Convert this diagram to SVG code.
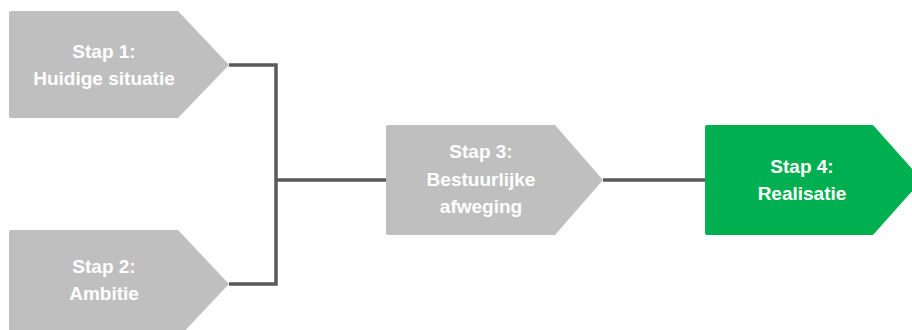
<svg xmlns="http://www.w3.org/2000/svg" width="912" height="330" viewBox="0 0 912 330">
<style>
.grey{fill:#BFBFBF}
.green{fill:#00B050}
.lbl{font-family:"Liberation Sans",Arial,sans-serif;font-weight:bold;font-size:19px;fill:#FFFFFF;text-anchor:middle}
.conn{fill:none;stroke:#595959;stroke-width:3.5}
</style>
<rect width="912" height="330" fill="#FFFFFF"/>
<g id="connectors">
<polyline class="conn" points="229,65 276,65 276,284 229,284"/>
<line class="conn" x1="276" y1="180" x2="386" y2="180"/>
<line class="conn" x1="603" y1="180" x2="705" y2="180"/>
</g>
<g id="stap1">
<path class="grey" d="M11,11 H178 L229,65 L178,118 H11 Q9,118 9,116 V13 Q9,11 11,11 Z"/>
<text class="lbl" x="104" y="58">Stap 1:</text>
<text class="lbl" x="104" y="85">Huidige situatie</text>
</g>
<g id="stap2">
<path class="grey" d="M11,230 H178 L229,284 L178,338 H11 Q9,338 9,336 V232 Q9,230 11,230 Z"/>
<text class="lbl" x="104" y="273">Stap 2:</text>
<text class="lbl" x="104" y="300">Ambitie</text>
</g>
<g id="stap3">
<path class="grey" d="M388,125 H555 L603,180 L555,235 H388 Q386,235 386,233 V127 Q386,125 388,125 Z"/>
<text class="lbl" x="481" y="158">Stap 3:</text>
<text class="lbl" x="481" y="186">Bestuurlijke</text>
<text class="lbl" x="481" y="213">afweging</text>
</g>
<g id="stap4">
<path class="green" d="M707,125 H873 L922,180 L873,235 H707 Q705,235 705,233 V127 Q705,125 707,125 Z"/>
<text class="lbl" x="802" y="173">Stap 4:</text>
<text class="lbl" x="802" y="200">Realisatie</text>
</g>
</svg>
